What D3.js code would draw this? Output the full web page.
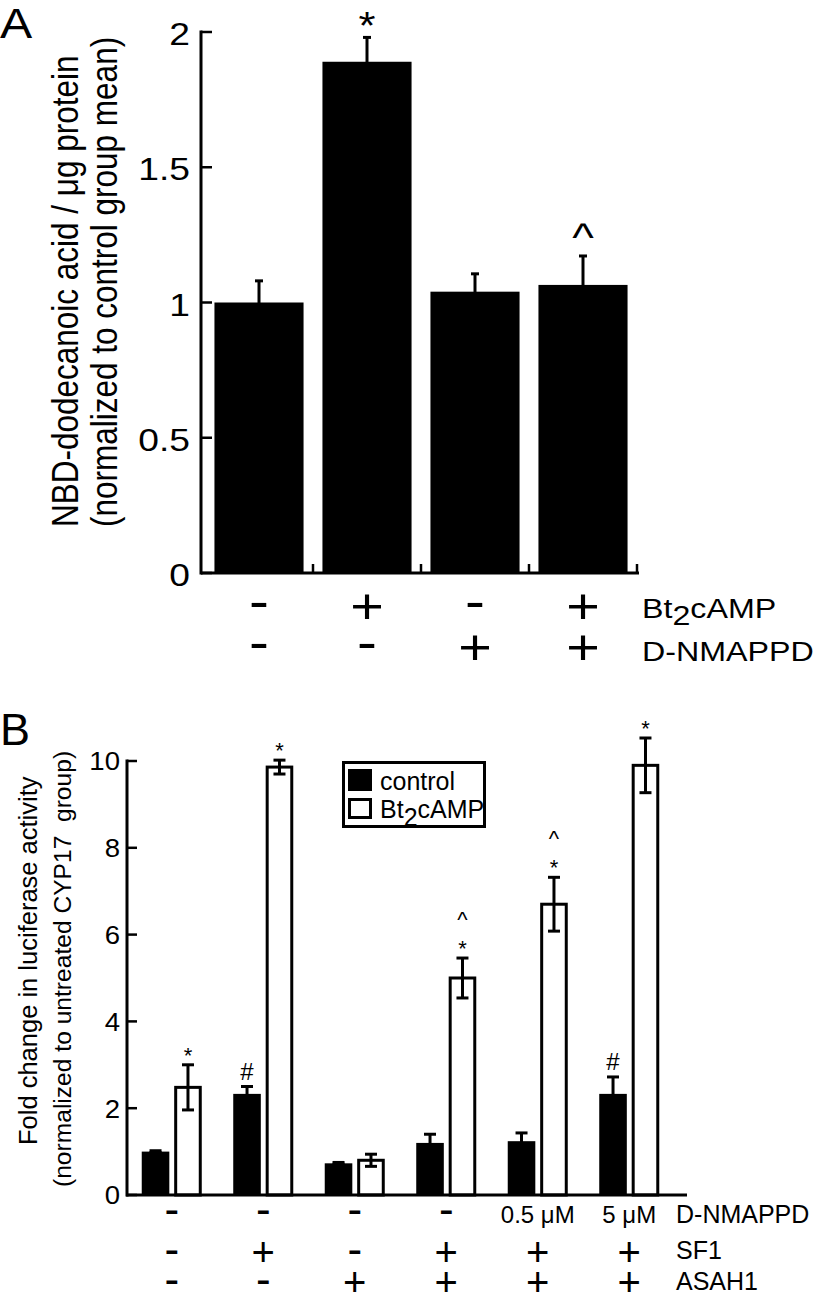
<!DOCTYPE html>
<html><head><meta charset="utf-8">
<script src="https://cdn.jsdelivr.net/npm/d3@7"></script>
<style>
html,body{margin:0;padding:0;background:#fff;}
svg{display:block;font-family:"Liberation Sans",Arial,Helvetica,sans-serif;}
</style></head>
<body>
<svg id="chart" width="816" height="1292"></svg>
<script>
// ---------- Panel A data ----------
const aCategories = ["g1", "g2", "g3", "g4"];
const aValues = [1.00, 1.89, 1.04, 1.065];
const aErrors = [0.08, 0.09, 0.066, 0.107];
const aBt2cAMP = ["-", "+", "-", "+"];
const aDNMAPPD = ["-", "-", "+", "+"];
const aSig = ["", "*", "", "^"];
const aTicks = [0, 0.5, 1, 1.5, 2];
const aTickLabels = ["0", "0.5", "1", "1.5", "2"];
const aYLabel1 = "NBD-dodecanoic acid / \u03bcg protein";
const aYLabel2 = "(normalized to control group mean)";

// ---------- Panel B data ----------
const bGroups = ["g1", "g2", "g3", "g4", "g5", "g6"];
const bSeries = ["control", "Bt2cAMP"];
const bControl = [1.00, 2.33, 0.73, 1.20, 1.24, 2.33];
const bControlErr = [0.02, 0.17, 0.02, 0.20, 0.19, 0.39];
const bCamp = [2.48, 9.86, 0.80, 5.00, 6.70, 9.90];
const bCampErr = [0.52, 0.16, 0.14, 0.46, 0.62, 0.63];
const bControlSig = ["", "#", "", "", "", "#"];
const bCampSig = [["*"], ["*"], [], ["*", "^"], ["*", "^"], ["*"]];
const bDNMAPPD = ["-", "-", "-", "-", "0.5 \u03bcM", "5 \u03bcM"];
const bSF1 = ["-", "+", "-", "+", "+", "+"];
const bASAH1 = ["-", "-", "+", "+", "+", "+"];
const bTicks = [0, 2, 4, 6, 8, 10];
const bYLabel1 = "Fold change in luciferase activity";
const bYLabel2 = "(normalized to untreated CYP17\u00a0 group)";

const svg = d3.select("#chart");

// ink-center offsets (fraction of em above baseline)
const K = {"+": 0.35, "-": 0.27, "*": 0.585, "^": 0.53, "#": 0.35, "d": 0.358};

function T(sel, x, y, s, o) {
  const t = sel.append("text")
    .attr("transform", `translate(${x},${y}) scale(${o.sx || 1},1)` + (o.rot ? " rotate(-90)" : ""))
    .attr("font-size", o.fs)
    .attr("text-anchor", o.anchor || "start")
    .attr("fill", "#000");
  if (o.fw) t.attr("font-weight", o.fw);
  if (s !== null) t.text(s);
  return t;
}
function sym(sel, x, cy, s, fs, sx) {
  const k = K[s] !== undefined ? K[s] : K.d;
  return T(sel, x, cy + k * fs, s, {fs: fs, sx: sx, anchor: "middle"});
}
function errBar(sel, cx, y1, y2, capW, sw) {
  const g = sel.append("g").attr("stroke", "#000").attr("stroke-width", sw);
  g.append("line").attr("x1", cx).attr("x2", cx).attr("y1", y1).attr("y2", y2);
  g.append("line").attr("x1", cx - capW / 2).attr("x2", cx + capW / 2).attr("y1", y1).attr("y2", y1);
  g.append("line").attr("x1", cx - capW / 2).attr("x2", cx + capW / 2).attr("y1", y2).attr("y2", y2);
}

// =================== Panel A ===================
(function () {
  const SX = 1.15;
  const g = svg.append("g");
  const y = d3.scaleLinear().domain([0, 2]).range([573, 32]);
  const x = d3.scaleBand().domain(aCategories).range([205, 637]).padding(0);
  const bw = x.bandwidth() * 0.825;
  const off = (x.bandwidth() - bw) / 2;

  g.selectAll("rect.a").data(aCategories).join("rect")
    .attr("x", (d) => x(d) + off)
    .attr("width", bw)
    .attr("y", (d, i) => y(aValues[i]))
    .attr("height", (d, i) => y(0) - y(aValues[i]))
    .attr("fill", "#000");

  aCategories.forEach((c, i) => {
    const cx = x(c) + x.bandwidth() / 2;
    errBar(g, cx, y(aValues[i] + aErrors[i]), y(aValues[i] - aErrors[i]), 8, 3);
    if (aSig[i]) {
      const fs = aSig[i] === "*" ? 38 : 40;
      sym(g, cx, y(aValues[i] + aErrors[i]) - (aSig[i] === "*" ? 21 : 26), aSig[i], fs, SX);
    }
  });

  // y axis
  g.append("line").attr("x1", 201).attr("x2", 201).attr("y1", y(2) - 1.5).attr("y2", y(0) + 1.5)
    .attr("stroke", "#000").attr("stroke-width", 3);
  aTicks.forEach((t, i) => {
    g.append("line").attr("x1", 201).attr("x2", 212).attr("y1", y(t)).attr("y2", y(t))
      .attr("stroke", "#000").attr("stroke-width", 2.5);
    T(g, 190, y(t) + 2 + 0.358 * 31, aTickLabels[i], {fs: 31, sx: 1.2, anchor: "end"});
  });

  // x axis
  g.append("line").attr("x1", 201).attr("x2", 639).attr("y1", y(0)).attr("y2", y(0))
    .attr("stroke", "#000").attr("stroke-width", 3);
  aCategories.forEach((c) => {
    const bx = x(c) + x.bandwidth();
    g.append("line").attr("x1", bx).attr("x2", bx).attr("y1", y(0)).attr("y2", y(0) - 9)
      .attr("stroke", "#000").attr("stroke-width", 2.5);
  });

  // condition rows
  aCategories.forEach((c, i) => {
    const cx = x(c) + x.bandwidth() / 2;
    sym(g, cx, 605, aBt2cAMP[i], aBt2cAMP[i] === "+" ? 50 : 52, SX);
    sym(g, cx, 646, aDNMAPPD[i], aDNMAPPD[i] === "+" ? 50 : 52, SX);
  });
  const bt = T(g, 642, 618, null, {fs: 28, sx: SX});
  bt.append("tspan").text("Bt");
  bt.append("tspan").attr("dy", 7).text("2");
  bt.append("tspan").attr("dy", -7).text("cAMP");
  T(g, 642, 661, "D-NMAPPD", {fs: 28, sx: SX});

  // y labels
  T(g, 78, 527, aYLabel1, {fs: 31.5, sx: SX, rot: true});
  T(g, 117, 527, aYLabel2, {fs: 31.5, sx: SX, rot: true});

  // panel letter
  T(g, 0, 38, "A", {fs: 42, sx: SX});
})();

// =================== Panel B ===================
(function () {
  const g = svg.append("g");
  const y = d3.scaleLinear().domain([0, 10]).range([1195, 761]);
  const x0 = d3.scaleBand().domain(bGroups).range([126, 675]).paddingInner(0.344).paddingOuter(0.172);
  const x1 = d3.scaleBand().domain(bSeries).range([0, x0.bandwidth()]).paddingInner(0.15);
  const vals = {control: bControl, Bt2cAMP: bCamp};
  const errs = {control: bControlErr, Bt2cAMP: bCampErr};

  bGroups.forEach((grp, i) => {
    bSeries.forEach((s) => {
      const v = vals[s][i];
      const bx = x0(grp) + x1(s);
      const w = x1.bandwidth();
      if (s === "control") {
        g.append("rect").attr("x", bx).attr("width", w).attr("y", y(v)).attr("height", y(0) - y(v))
          .attr("fill", "#000");
      } else {
        g.append("rect").attr("x", bx + 1.5).attr("width", w - 3).attr("y", y(v)).attr("height", y(0) - y(v))
          .attr("fill", "#fff").attr("stroke", "#000").attr("stroke-width", 3);
      }
      const cx = bx + w / 2;
      const e = errs[s][i];
      errBar(g, cx, y(v + e), y(v - e), 12, 3);
      const top = y(v + e);
      if (s === "control" && bControlSig[i]) {
        sym(g, cx, top - 15, "#", 24, 1);
      }
      if (s === "Bt2cAMP") {
        bCampSig[i].forEach((m, j) => {
          sym(g, cx, top - 15 - j * 28, m, m === "*" ? 22 : 22, 1);
        });
      }
    });
  });

  // y axis
  g.append("line").attr("x1", 127).attr("x2", 127).attr("y1", y(10) - 1.5).attr("y2", y(0) + 1.5)
    .attr("stroke", "#000").attr("stroke-width", 3);
  bTicks.forEach((t) => {
    g.append("line").attr("x1", 127).attr("x2", 137).attr("y1", y(t)).attr("y2", y(t))
      .attr("stroke", "#000").attr("stroke-width", 2.5);
    T(g, 120, y(t) + 0.358 * 26, String(t), {fs: 26, sx: 1.06, anchor: "end"});
  });
  // x axis
  g.append("line").attr("x1", 126).attr("x2", 687).attr("y1", y(0)).attr("y2", y(0))
    .attr("stroke", "#000").attr("stroke-width", 3);

  // condition rows
  bGroups.forEach((grp, i) => {
    const cx = x0(grp) + x0.bandwidth() / 2;
    const d = bDNMAPPD[i];
    if (d === "-" || d === "+") sym(g, cx, 1212, d, d === "+" ? 40 : 44, 1);
    else T(g, cx, 1223, d, {fs: 24, anchor: "middle"});
    sym(g, cx, 1252, bSF1[i], bSF1[i] === "+" ? 40 : 44, 1);
    sym(g, cx, 1282, bASAH1[i], bASAH1[i] === "+" ? 40 : 44, 1);
  });
  T(g, 676, 1223, "D-NMAPPD", {fs: 25});
  T(g, 676, 1259, "SF1", {fs: 25});
  T(g, 676, 1290, "ASAH1", {fs: 25});

  // y labels
  T(g, 37, 1145, bYLabel1, {fs: 25.5, rot: true});
  T(g, 71, 1187, bYLabel2, {fs: 24.6, rot: true});

  // legend
  g.append("rect").attr("x", 343.5).attr("y", 762.5).attr("width", 141).attr("height", 64)
    .attr("fill", "#fff").attr("stroke", "#000").attr("stroke-width", 3);
  g.append("rect").attr("x", 348).attr("y", 769).attr("width", 24).attr("height", 22).attr("fill", "#000");
  g.append("rect").attr("x", 349.5).attr("y", 799.5).attr("width", 21).attr("height", 18)
    .attr("fill", "#fff").attr("stroke", "#000").attr("stroke-width", 3);
  T(g, 380, 790, "control", {fs: 25});
  const lt = T(g, 380, 818, null, {fs: 25});
  lt.append("tspan").text("Bt");
  lt.append("tspan").attr("dy", 8).text("2");
  lt.append("tspan").attr("dy", -8).text("cAMP");

  // panel letter
  T(g, 0, 745, "B", {fs: 45});
})();
</script>
</body></html>
